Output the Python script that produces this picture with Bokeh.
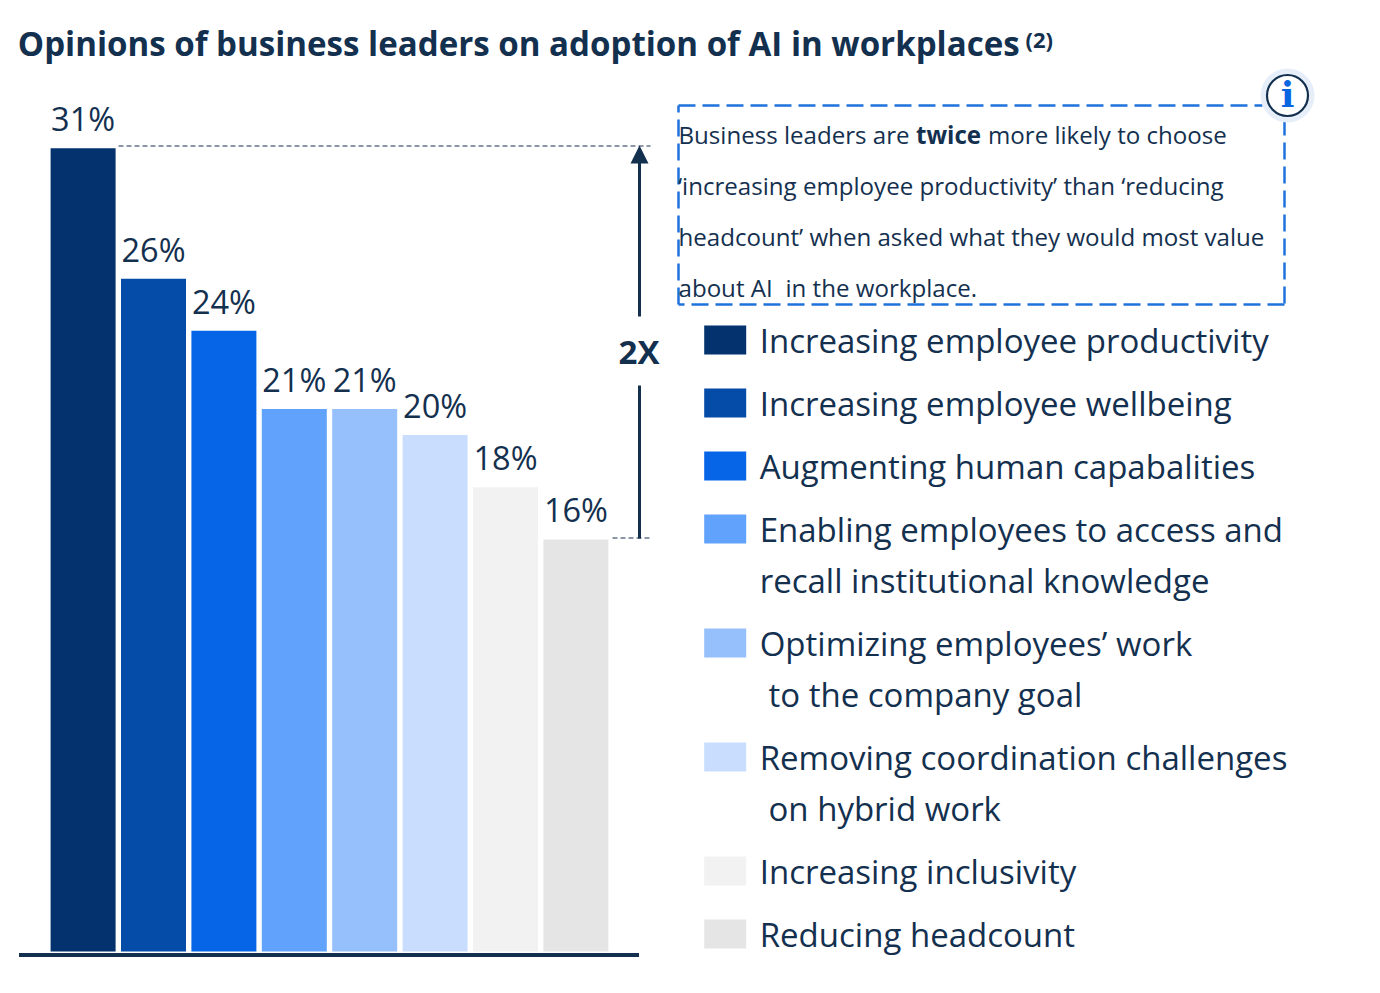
from bokeh.plotting import figure
from bokeh.models import Range1d, ColumnDataSource
from bokeh.core.properties import value
from bokeh.embed import file_html
from bokeh.resources import INLINE

categories = ["Increasing employee productivity", "Increasing employee wellbeing", "Augmenting human capabalities",
              "Enabling employees to access and", "Optimizing employees\u2019 work", "Removing coordination challenges",
              "Increasing inclusivity", "Reducing headcount"]
second_lines = ["", "", "", "recall institutional knowledge", " to the company goal", " on hybrid work", "", ""]
values = [31, 26, 24, 21, 21, 20, 18, 16]
colors = ["#03326f", "#054ba8", "#0565e6", "#60a2fc", "#95c0fc", "#c9defe", "#f2f2f2", "#e5e5e5"]
title = "Opinions of business leaders on adoption of AI in workplaces"
INK = "#14304f"
BLUE = "#1f72dc"
FONT = value("Open Sans")
BASE = 0.39  # alphabetic-baseline correction, as a share of the font size

W, H = 1364, 975
p = figure(width=W, height=H, output_backend="svg", toolbar_location=None,
           x_range=Range1d(0, W), y_range=Range1d(H, 0), min_border=0)
p.axis.visible = False
p.grid.visible = False
p.outline_line_color = None
p.background_fill_color = "white"
p.border_fill_color = "white"

# data scales: category index -> bar position, percent -> bar height
STEP, X0 = 70.4, 82.6
UNIT, ZERO = 26.07, 956.0
p.extra_x_ranges["idx"] = Range1d((0 - X0) / STEP, (W - X0) / STEP)
p.extra_y_ranges["pct"] = Range1d((ZERO - H) / UNIT, ZERO / UNIT)

idx = list(range(len(values)))
src = ColumnDataSource(dict(x=idx, v=values, c=colors, bottom=[5 / UNIT] * len(values),
                            label=[f"{v}%" for v in values]))
p.vbar(x="x", top="v", bottom="bottom", width=65 / STEP, fill_color="c", line_color=None, source=src,
       x_range_name="idx", y_range_name="pct")
p.text(x="x", y="v", text="label", source=src, x_range_name="idx", y_range_name="pct",
       text_font=FONT, text_font_size="32.5px", text_color=INK, text_align="center",
       text_baseline="alphabetic", y_offset=-17 - BASE * 32.5)


def txt(x, y, s, size, color=INK, style="normal", font=FONT, align="left"):
    p.text([x], [y - BASE * size], text=[s], text_font=font, text_font_size=f"{size}px", text_color=color,
           text_font_style=style, text_align=align, text_baseline="alphabetic")


# title
txt(17.3, 56, title, 33.1, style="bold")
txt(1025, 47, "(2)", 22, style="bold")

# axis line
p.line([18.5, 638.5], [954.5, 954.5], line_color=INK, line_width=4)

# reference lines and 2X arrow
p.line([118, 650], [145.5, 145.5], line_color=INK, line_width=1.2, line_dash="5 3")
p.line([612, 650], [537.5, 537.5], line_color=INK, line_width=1.2, line_dash="5 3")
p.line([639, 639], [160, 316], line_color=INK, line_width=3)
p.line([639, 639], [385, 538], line_color=INK, line_width=3)
p.patch([630, 648, 639], [163, 163, 145], fill_color=INK, line_color=None)
txt(638.5, 364, "2X", 33, style="bold", align="center")

# callout box
p.line([678, 1262], [105, 105], line_color=BLUE, line_width=2.5, line_dash="17 7")
p.line([1284, 1284], [118, 304], line_color=BLUE, line_width=2.5, line_dash="17 7")
p.line([1284, 678], [304, 304], line_color=BLUE, line_width=2.5, line_dash="17 7")
p.line([678, 678], [304, 105], line_color=BLUE, line_width=2.5, line_dash="17 7")
CS = 24.1
txt(678, 143, "Business leaders are", CS)
txt(915.5, 143, "twice", CS, style="bold")
txt(987.5, 143, "more likely to choose", CS)
txt(677.5, 194, "\u2018increasing employee productivity\u2019 than \u2018reducing", CS)
txt(678, 245.5, "headcount\u2019 when asked what they would most value", CS)
txt(678, 296.5, "about AI", CS)
txt(785, 296.5, "in the workplace.", CS)

# info badge
p.scatter([1287], [95], marker="circle", size=54, fill_color="#e6eefa", line_color=None)
p.scatter([1287], [95], marker="circle", size=41, fill_color="white", line_color=INK, line_width=2.2)
txt(1287, 108, "i", 36, color="#0a66e0", style="bold", font=value("DejaVu Serif"), align="center")

# legend
centers = [339.5, 402.5, 465.5, 528.5, 642.5, 756.5, 870.5, 933.5]
LS = 33
for name, extra, color, cy in zip(categories, second_lines, colors, centers):
    p.quad(left=[703.7], right=[745.7], top=[cy - 14.5], bottom=[cy + 14.5], fill_color=color, line_color=None)
    txt(759.2, cy + 13.5, name, LS)
    if extra:
        txt(768 if extra.startswith(" ") else 759.2, cy + 64, extra.strip(), LS)

open("out.html", "w").write(file_html(p, INLINE))
